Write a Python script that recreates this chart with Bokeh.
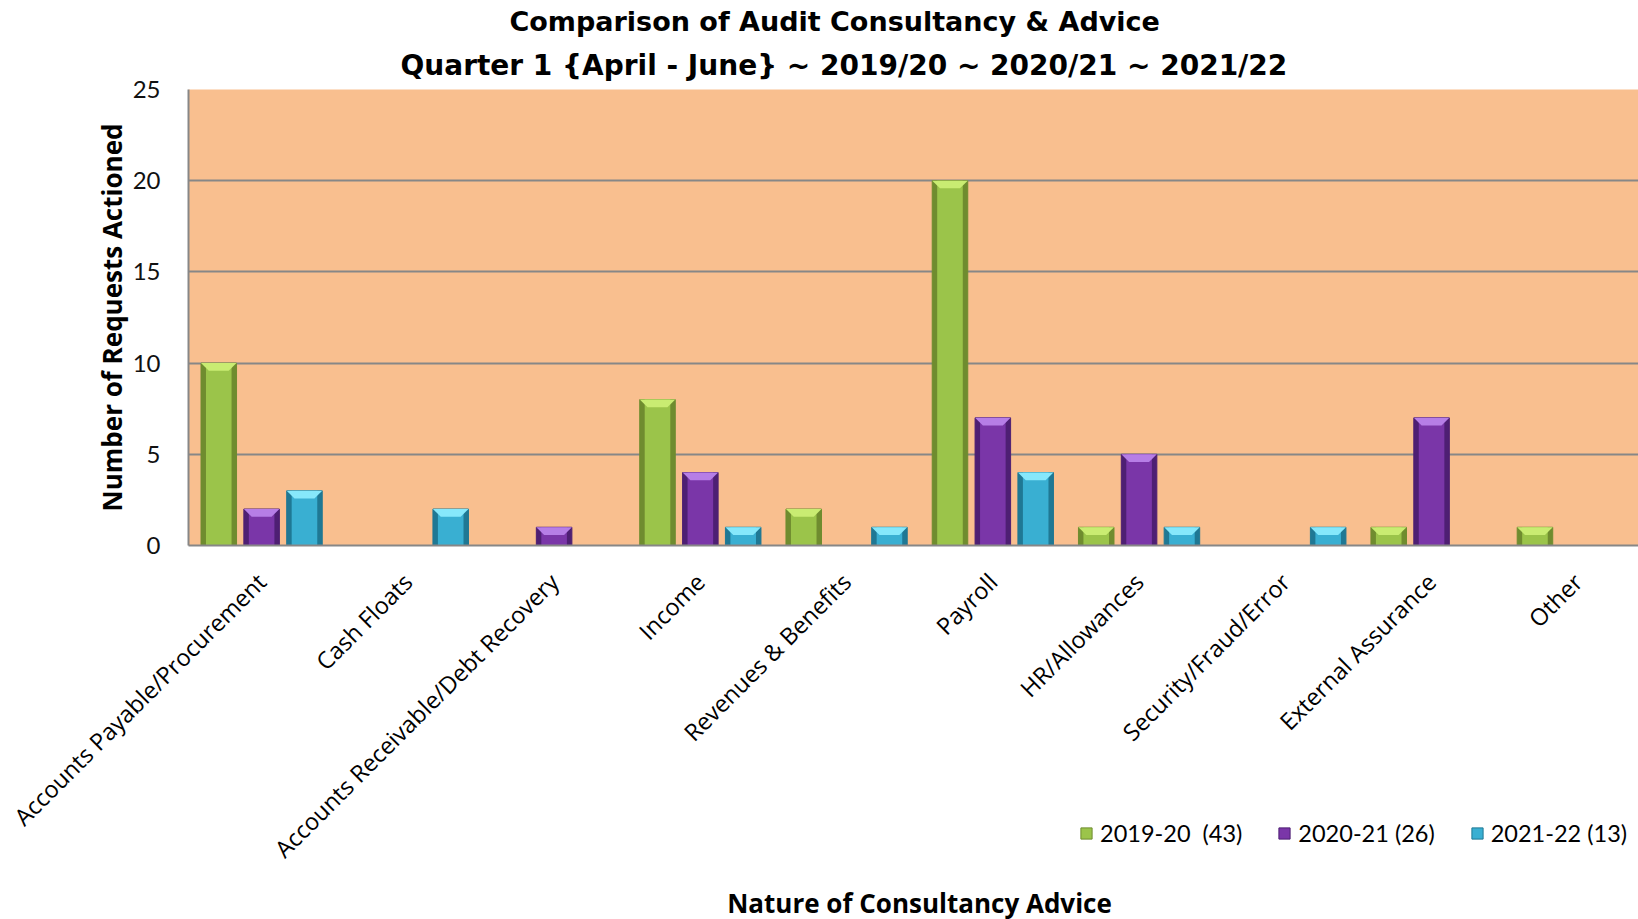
import math
from bokeh.plotting import figure
from bokeh.layouts import column
from bokeh.models import (Range1d, FixedTicker, Title, Label, Legend, LegendItem,
                          ColumnDataSource)
from bokeh.embed import file_html
from bokeh.resources import INLINE

categories = ["Accounts Payable/Procurement", "Cash Floats", "Accounts Receivable/Debt Recovery",
              "Income", "Revenues & Benefits", "Payroll", "HR/Allowances",
              "Security/Fraud/Error", "External Assurance", "Other"]
series_names = ["2019-20  (43)", "2020-21 (26)", "2021-22 (13)"]
v2019 = [10, 0, 0, 8, 2, 20, 1, 0, 1, 1]
v2020 = [2, 0, 1, 4, 0, 7, 5, 0, 7, 0]
v2021 = [3, 2, 0, 1, 1, 4, 1, 1, 0, 0]
y_ticks = [0, 5, 10, 15, 20, 25]

title_line1 = "Comparison of Audit Consultancy & Advice"
title_line2 = "Quarter 1 {April - June} ~ 2019/20 ~ 2020/21 ~ 2021/22"
x_title = "Nature of Consultancy Advice"
y_title = "Number of Requests Actioned"

# colours: (edge/dark, body, light cap)
styles = [("#6F8C2F", "#9BC44A", "#C9EC72"),
          ("#4E1F73", "#7A36A8", "#B67EE6"),
          ("#1F7894", "#39AFD2", "#86E8FB")]

W, H = 1638, 919
p = figure(width=W, height=H, output_backend="svg", toolbar_location=None,
           x_range=Range1d(0, 9.915), y_range=Range1d(0, 25),
           min_border_left=188, min_border_right=0, min_border_top=89, min_border_bottom=374)
p.title.text = ""
p.background_fill_color = "#F9BF8F"
p.border_fill_color = "white"
p.outline_line_color = None

GRID = "#878787"
p.xgrid.visible = False
p.ygrid.ticker = FixedTicker(ticks=y_ticks)
p.ygrid.grid_line_color = GRID
p.ygrid.grid_line_width = 2

p.yaxis.ticker = FixedTicker(ticks=y_ticks)
p.yaxis.major_tick_line_color = None
p.yaxis.minor_tick_line_color = None
p.yaxis.axis_line_color = GRID
p.yaxis.axis_line_width = 2
p.yaxis.major_label_text_font = "Lato"
p.yaxis.major_label_text_font_size = "24px"
p.yaxis.major_label_text_color = "#111111"
p.yaxis.major_label_standoff = 22
p.yaxis.axis_label = y_title
p.yaxis.axis_label_text_font = "Open Sans"
p.yaxis.axis_label_text_font_style = "bold"
p.yaxis.axis_label_text_font_size = "26px"
p.yaxis.axis_label_text_color = "black"
p.yaxis.axis_label_standoff = 0

centers = [i + 0.5 for i in range(len(categories))]
p.xaxis.ticker = FixedTicker(ticks=centers)
p.xaxis.major_label_overrides = {c: name for c, name in zip(centers, categories)}
p.xaxis.major_label_orientation = math.pi / 4
p.xaxis.major_tick_line_color = None
p.xaxis.minor_tick_line_color = None
p.xaxis.axis_line_color = GRID
p.xaxis.axis_line_width = 2
p.xaxis.major_label_text_font = "Open Sans"
p.xaxis.major_label_text_font_size = "23.5px"
p.xaxis.major_label_text_color = "black"
p.xaxis.major_label_standoff = 26

offsets = [-0.293, 0.0, 0.293]
bw = 0.243
for k, vals in enumerate([v2019, v2020, v2021]):
    dark, body, light = styles[k]
    xs = [c + offsets[k] for c, v in zip(centers, vals) if v > 0]
    tops = [v for v in vals if v > 0]
    src = ColumnDataSource(dict(x=xs, top=tops))
    p.vbar(x="x", top="top", bottom=0, width=bw, source=src,
           fill_color=dark, line_color=dark, line_width=1)
    p.vbar(x="x", top="top", bottom=0, width=bw * 0.72, source=src,
           fill_color=body, line_color=None)
    cap = 0.42
    d = bw * 0.22
    px = [[x - bw / 2, x + bw / 2, x + bw / 2 - d, x - bw / 2 + d] for x in xs]
    py = [[t, t, t - cap, t - cap] for t in tops]
    p.patches(xs=px, ys=py, fill_color=light, line_color=None)

# titles (line 2 nearest to the frame, line 1 above it)
p.add_layout(Title(text=title_line2, align="left", offset=212, text_font="DejaVu Sans",
                   text_font_style="bold", text_font_size="28px", text_color="black",
                   vertical_align="middle", standoff=14), "above")
p.add_layout(Title(text=title_line1, align="left", offset=321, text_font="DejaVu Sans",
                   text_font_style="bold", text_font_size="27px", text_color="black",
                   vertical_align="middle", standoff=6), "above")

# transparent strip overlapping the bottom of the chart: legend + x-axis title
# (its frame is aligned with the main frame by the column layout, so x is frame-relative)
LH = 100
p2 = figure(width=W, height=LH, output_backend="svg", toolbar_location=None,
            x_range=Range1d(0, W), y_range=Range1d(0, LH), min_border=0,
            x_axis_type=None, y_axis_type=None, title=None, margin=(-LH, 0, 0, 0))
p2.outline_line_color = None
p2.background_fill_alpha = 0
p2.border_fill_alpha = 0
p2.xgrid.visible = False
p2.ygrid.visible = False

items = []
for k in range(3):
    dark, body, light = styles[k]
    # legend proxy glyph (kept outside the visible range)
    r = p2.vbar(x=[-W], top=[0], width=1, fill_color=body, line_color=dark, line_width=1)
    items.append(LegendItem(label=series_names[k], renderers=[r]))

legend = Legend(items=items, orientation="horizontal", location=(891, 72),
                padding=0, margin=0, spacing=35, label_standoff=7,
                glyph_width=14, glyph_height=14,
                label_text_font="Lato", label_text_font_size="23.5px",
                label_text_color="black",
                background_fill_alpha=0, border_line_color=None)
p2.add_layout(legend)

p2.add_layout(Label(x=731, y=17, x_units="screen", y_units="screen", text=x_title,
                    text_align="center", text_baseline="middle", text_font="Open Sans",
                    text_font_style="bold", text_font_size="26px", text_color="black"))

layout = column(p, p2, spacing=0)
open("out.html", "w").write(file_html(layout, INLINE))
